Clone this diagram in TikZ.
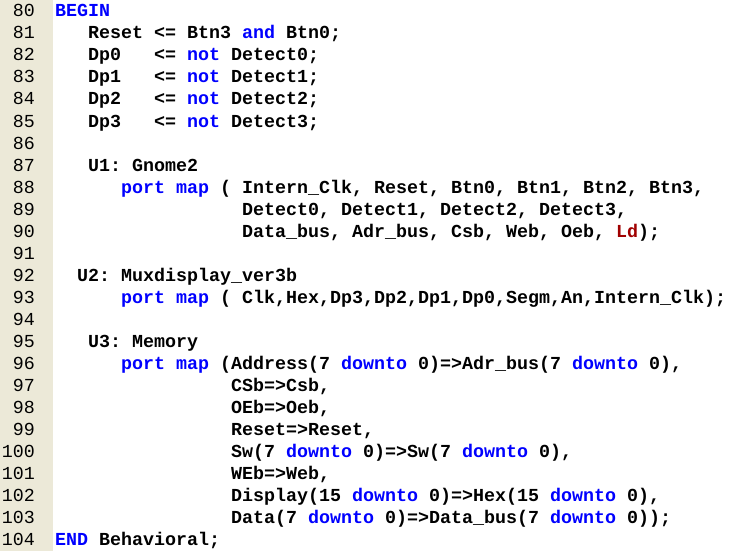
\documentclass[tikz,border=0pt]{standalone}
\usepackage{fontspec}
\newfontfamily\codefont{Liberation Mono}
\definecolor{gutter}{RGB}{236,233,216}
\definecolor{kwblue}{RGB}{0,0,255}
\definecolor{ldred}{RGB}{160,0,0}
\newcommand{\kw}[1]{\textcolor{kwblue}{#1}}
\frenchspacing
\begin{document}
\begin{tikzpicture}[x=1pt, y=1pt,
    code/.style={anchor=base west, inner sep=0pt, font=\codefont\bfseries\fontsize{18.33}{22}\selectfont\frenchspacing},
    lineno/.style={anchor=base east, inner sep=0pt, font=\codefont\fontsize{18.33}{22}\selectfont}]
  \useasboundingbox (0,0) rectangle (734,-551);
  % Gutter with line numbers
  \fill[gutter] (0,0) rectangle (53,-551);
  \foreach \n [count=\i from 0] in {80,...,104}
    \node[lineno] (n\n) at (35,{-17-22*\i}) {\n};

  % Architecture body
  \node[code] (c80) at (55,-17) {\kw{BEGIN}};
  \node[code] (c81) at (88,-39) {Reset <= Btn3 \kw{and} Btn0;};
  \node[code] (c82) at (88,-61) {Dp0~~~<= \kw{not} Detect0;};
  \node[code] (c83) at (88,-83) {Dp1~~~<= \kw{not} Detect1;};
  \node[code] (c84) at (88,-105) {Dp2~~~<= \kw{not} Detect2;};
  \node[code] (c85) at (88,-127) {Dp3~~~<= \kw{not} Detect3;};

  % U1
  \node[code] (c87) at (88,-171) {U1: Gnome2};
  \node[code] (c88) at (121,-193) {\kw{port map} ( Intern\_Clk, Reset, Btn0, Btn1, Btn2, Btn3,};
  \node[code] (c89) at (242,-215) {Detect0, Detect1, Detect2, Detect3,};
  \node[code] (c90) at (242,-237) {Data\_bus, Adr\_bus, Csb, Web, Oeb, \textcolor{ldred}{Ld});};

  % U2
  \node[code] (c92) at (77,-281) {U2: Muxdisplay\_ver3b};
  \node[code] (c93) at (121,-303) {\kw{port map} ( Clk,Hex,Dp3,Dp2,Dp1,Dp0,Segm,An,Intern\_Clk);};

  % U3
  \node[code] (c95) at (88,-347) {U3: Memory};
  \node[code] (c96) at (121,-369) {\kw{port map} (Address(7 \kw{downto} 0)=>Adr\_bus(7 \kw{downto} 0),};
  \node[code] (c97) at (231,-391) {CSb=>Csb,};
  \node[code] (c98) at (231,-413) {OEb=>Oeb,};
  \node[code] (c99) at (231,-435) {Reset=>Reset,};
  \node[code] (c100) at (231,-457) {Sw(7 \kw{downto} 0)=>Sw(7 \kw{downto} 0),};
  \node[code] (c101) at (231,-479) {WEb=>Web,};
  \node[code] (c102) at (231,-501) {Display(15 \kw{downto} 0)=>Hex(15 \kw{downto} 0),};
  \node[code] (c103) at (231,-523) {Data(7 \kw{downto} 0)=>Data\_bus(7 \kw{downto} 0));};
  \node[code] (c104) at (55,-545) {\kw{END} Behavioral;};
\end{tikzpicture}
\end{document}
